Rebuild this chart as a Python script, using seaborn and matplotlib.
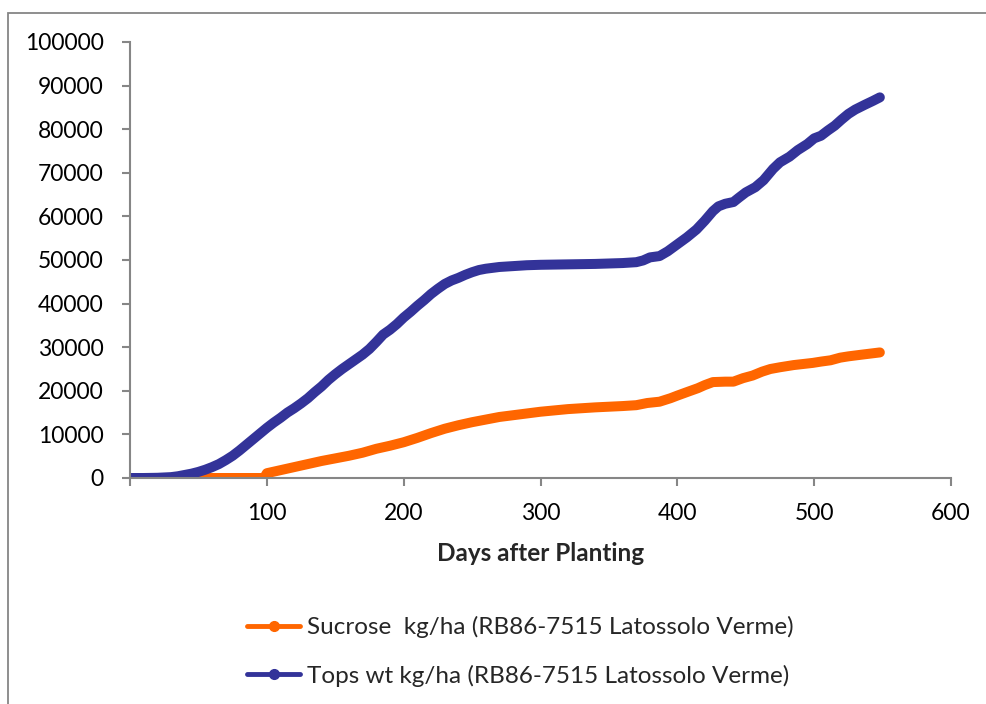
import matplotlib
matplotlib.use("Agg")
import matplotlib.pyplot as plt
from matplotlib.lines import Line2D
from matplotlib.patches import Rectangle
import numpy as np
import pandas as pd
import seaborn as sns

# Days after planting and simulated values (kg/ha)
tops_days = [1, 10, 20, 30, 35, 40, 45, 50, 55, 60, 65, 70, 75, 80, 85, 90, 95,
             100, 105, 110, 115, 120, 125, 130, 135, 140, 145, 150, 155, 160,
             165, 170, 175, 180, 185, 190, 195, 200, 205, 210, 215, 220, 225,
             230, 235, 240, 245, 250, 255, 260, 265, 270, 280, 290, 300, 320,
             340, 360, 370, 375, 380, 387, 393, 400, 407, 414, 420, 426, 430,
             435, 441, 445, 450, 457, 463, 470, 475, 482, 488, 495, 500, 505,
             510, 515, 520, 525, 530, 537, 543, 548]
tops_wt = [0, 0, 50, 200, 400, 700, 1000, 1400, 1900, 2500, 3200, 4100, 5100,
           6300, 7600, 8900, 10200, 11500, 12700, 13800, 15000, 16000, 17100,
           18300, 19700, 21000, 22500, 23800, 25000, 26100, 27200, 28300,
           29600, 31200, 32900, 34000, 35300, 36800, 38100, 39500, 40800,
           42200, 43400, 44500, 45300, 45900, 46600, 47200, 47700, 48000,
           48200, 48400, 48600, 48800, 48900, 49000, 49100, 49300, 49500,
           49900, 50600, 50900, 52000, 53600, 55200, 57000, 59000, 61200,
           62300, 62900, 63300, 64300, 65500, 66700, 68300, 70900, 72400,
           73700, 75200, 76600, 77900, 78500, 79700, 80800, 82200, 83500,
           84500, 85600, 86500, 87300]

sucrose_days = [1, 20, 40, 60, 80, 98, 100, 110, 120, 130, 140, 150, 160, 170,
                180, 190, 200, 210, 220, 230, 240, 250, 260, 270, 280, 290,
                300, 320, 340, 360, 370, 378, 387, 395, 400, 407, 415, 420,
                426, 435, 441, 448, 455, 462, 468, 475, 485, 499, 505, 512,
                519, 525, 535, 548]
sucrose = [0, 0, 0, 0, 0, 0, 1100, 1800, 2500, 3200, 3900, 4500, 5100, 5800,
           6700, 7400, 8200, 9200, 10300, 11300, 12100, 12800, 13400, 14000,
           14400, 14800, 15200, 15800, 16200, 16500, 16700, 17200, 17500,
           18300, 18900, 19700, 20600, 21300, 22000, 22100, 22100, 22900,
           23500, 24400, 25000, 25400, 25900, 26400, 26700, 27000, 27600,
           27900, 28300, 28800]

series_names = ["Sucrose  kg/ha (RB86-7515 Latossolo Verme)",
                "Tops wt kg/ha (RB86-7515 Latossolo Verme)"]
series_colors = ["#FF6600", "#333399"]
x_ticks = [0, 100, 200, 300, 400, 500, 600]
x_tick_labels = ["", "100", "200", "300", "400", "500", "600"]
y_ticks = [0, 10000, 20000, 30000, 40000, 50000, 60000, 70000, 80000, 90000, 100000]

df = pd.concat([
    pd.DataFrame({"day": sucrose_days, "value": sucrose, "series": series_names[0]}),
    pd.DataFrame({"day": tops_days, "value": tops_wt, "series": series_names[1]}),
], ignore_index=True)

sns.set_theme(style="white")
plt.rcParams["font.family"] = ["Lato", "DejaVu Sans"]

W, H = 986, 704
fig = plt.figure(figsize=(W / 100, H / 100), dpi=100)
ax = fig.add_axes([130 / W, 1 - 478 / H, (951 - 130) / W, (478 - 42) / H])

sns.lineplot(data=df, x="day", y="value", hue="series", hue_order=series_names,
             palette=dict(zip(series_names, series_colors)), estimator=None,
             sort=True, linewidth=7.2, legend=False, ax=ax,
             solid_capstyle="round", solid_joinstyle="round")

ax.set_xlim(0, 600)
ax.set_ylim(0, 100000)
ax.set_xticks(x_ticks)
ax.set_xticklabels(x_tick_labels)
ax.set_yticks(y_ticks)
ax.set_yticklabels([str(v) for v in y_ticks])
ax.set_ylabel("")
ax.set_xlabel("Days after Planting", fontsize=17.5, fontweight="bold", labelpad=13)

spine_color = "#868686"
for side in ["top", "right"]:
    ax.spines[side].set_visible(False)
for side in ["left", "bottom"]:
    ax.spines[side].set_color(spine_color)
    ax.spines[side].set_linewidth(1.5)
ax.tick_params(axis="both", which="major", direction="out", length=6, width=1.5,
               color=spine_color, labelsize=16.5, labelcolor="black",
               left=True, bottom=True)
ax.tick_params(axis="y", pad=13)
ax.tick_params(axis="x", pad=12)

handles = [Line2D([0], [0], color=c, lw=3.5, marker="o", markersize=7,
                  solid_capstyle="round") for c in series_colors]
fig.legend(handles, series_names, loc="upper left",
           bbox_to_anchor=(247 / W, 1 - 616 / H), frameon=False,
           fontsize=17.5, handlelength=2.2, handletextpad=0.25,
           labelspacing=1.1, borderpad=0, borderaxespad=0)

# chart area border
fig.patches.append(Rectangle((8 / W, -0.2), 1.2, 1 - 13 / H + 0.2,
                             transform=fig.transFigure, fill=False,
                             edgecolor="#868686", linewidth=1.3))

fig.savefig("out.png", dpi=100)
